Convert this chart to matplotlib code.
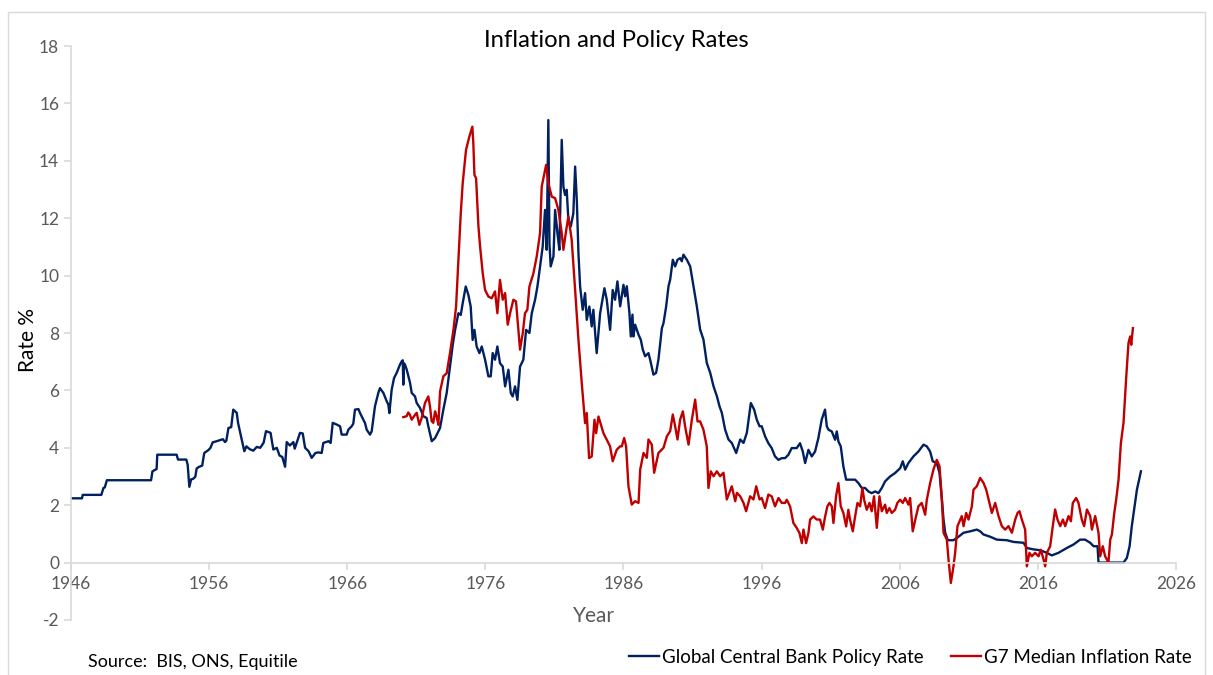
import matplotlib
matplotlib.use("Agg")
import matplotlib.pyplot as plt
from matplotlib.patches import Rectangle

plt.rcParams['font.family'] = ['Lato', 'DejaVu Sans']
plt.rcParams['axes.unicode_minus'] = False

# Global central bank policy rate (%)
policy_years = [
    1946.0, 1946.8, 1946.85, 1948.2, 1948.35, 1948.45, 1948.6, 1951.8, 1951.9, 1952.2,
    1952.25, 1953.65, 1953.75, 1954.35, 1954.45, 1954.57, 1954.7, 1954.85, 1955.0, 1955.1,
    1955.25, 1955.5, 1955.65, 1955.95, 1956.1, 1956.26, 1956.55, 1957.0, 1957.15, 1957.25,
    1957.4, 1957.6, 1957.75, 1958.0, 1958.1, 1958.36, 1958.55, 1958.7, 1958.95, 1959.2,
    1959.45, 1959.7, 1959.95, 1960.12, 1960.45, 1960.65, 1960.9, 1961.1, 1961.3, 1961.5,
    1961.62, 1961.85, 1962.1, 1962.2, 1962.4, 1962.58, 1962.78, 1962.95, 1963.2, 1963.43,
    1963.7, 1963.9, 1964.15, 1964.27, 1964.65, 1964.8, 1964.95, 1965.24, 1965.48, 1965.6,
    1965.96, 1966.08, 1966.32, 1966.44, 1966.56, 1966.81, 1966.93, 1967.17, 1967.29, 1967.41,
    1967.65, 1967.77, 1968.01, 1968.25, 1968.37, 1968.62, 1968.86, 1968.98, 1969.05, 1969.22,
    1969.39, 1969.58, 1969.82, 1969.94, 1970.02, 1970.06, 1970.1, 1970.18, 1970.31, 1970.43,
    1970.55, 1970.67, 1970.91, 1971.03, 1971.27, 1971.51, 1971.75, 1971.87, 1972.12, 1972.36,
    1972.6, 1972.72, 1972.96, 1973.2, 1973.44, 1973.64, 1973.81, 1974.05, 1974.22, 1974.36,
    1974.58, 1974.77, 1974.94, 1975.08, 1975.21, 1975.37, 1975.57, 1975.74, 1975.98, 1976.22,
    1976.39, 1976.53, 1976.7, 1976.87, 1977.06, 1977.26, 1977.43, 1977.67, 1977.84, 1977.98,
    1978.15, 1978.32, 1978.51, 1978.75, 1978.95, 1979.19, 1979.36, 1979.6, 1979.77, 1979.96,
    1980.15, 1980.32, 1980.44, 1980.56, 1980.64, 1980.73, 1980.93, 1981.05, 1981.22, 1981.36,
    1981.53, 1981.65, 1981.77, 1981.89, 1982.01, 1982.18, 1982.37, 1982.5, 1982.62, 1982.74,
    1982.86, 1983.05, 1983.22, 1983.34, 1983.53, 1983.7, 1983.82, 1984.06, 1984.31, 1984.62,
    1984.79, 1985.03, 1985.22, 1985.39, 1985.56, 1985.76, 1986.0, 1986.12, 1986.24, 1986.43,
    1986.53, 1986.65, 1986.72, 1986.84, 1987.09, 1987.25, 1987.4, 1987.57, 1987.81, 1987.93,
    1988.17, 1988.36, 1988.53, 1988.78, 1988.9, 1989.09, 1989.26, 1989.38, 1989.57, 1989.74,
    1989.91, 1990.1, 1990.22, 1990.34, 1990.59, 1990.83, 1991.07, 1991.31, 1991.55, 1991.79,
    1992.03, 1992.28, 1992.52, 1992.76, 1992.95, 1993.12, 1993.36, 1993.6, 1993.84, 1994.16,
    1994.45, 1994.69, 1994.93, 1995.22, 1995.46, 1995.65, 1995.85, 1996.01, 1996.25, 1996.49,
    1996.73, 1996.97, 1997.22, 1997.46, 1997.7, 1997.94, 1998.18, 1998.54, 1998.78, 1998.98,
    1999.15, 1999.39, 1999.63, 1999.87, 2000.11, 2000.35, 2000.59, 2000.72, 2000.84, 2001.08,
    2001.32, 2001.44, 2001.56, 2001.73, 2001.92, 2002.12, 2002.4, 2002.77, 2003.01, 2003.25,
    2003.49, 2003.73, 2003.97, 2004.22, 2004.46, 2004.7, 2004.94, 2005.3, 2005.66, 2006.03,
    2006.22, 2006.39, 2006.63, 2006.99, 2007.35, 2007.72, 2007.96, 2008.2, 2008.39, 2008.68,
    2008.88, 2009.05, 2009.17, 2009.29, 2009.48, 2009.89, 2010.25, 2010.62, 2011.1, 2011.58,
    2011.82, 2012.06, 2012.55, 2013.03, 2013.75, 2014.24, 2014.96, 2015.2, 2015.68, 2016.17,
    2016.65, 2017.01, 2017.49, 2018.1, 2018.58, 2019.06, 2019.42, 2019.79, 2020.03, 2020.32,
    2020.39, 2020.99, 2021.72, 2022.2, 2022.44, 2022.64, 2022.8, 2022.97, 2023.17, 2023.46,
]
policy_rate = [
    2.24, 2.24, 2.36, 2.36, 2.6, 2.62, 2.87, 2.87, 3.18, 3.26,
    3.76, 3.76, 3.59, 3.59, 3.41, 2.64, 2.9, 2.92, 2.99, 3.28,
    3.33, 3.38, 3.82, 3.92, 4.0, 4.19, 4.23, 4.3, 4.2, 4.25,
    4.69, 4.72, 5.33, 5.22, 4.86, 4.29, 3.88, 4.05, 3.95, 3.9,
    4.03, 4.0, 4.18, 4.58, 4.52, 3.94, 4.0, 3.73, 3.68, 3.34,
    4.2, 4.08, 4.2, 3.97, 4.26, 4.52, 4.5, 4.0, 3.88, 3.65,
    3.82, 3.84, 3.82, 4.17, 4.23, 4.17, 4.87, 4.81, 4.75, 4.46,
    4.46, 4.63, 4.75, 4.84, 5.33, 5.35, 5.21, 4.98, 4.86, 4.63,
    4.46, 4.57, 5.45, 5.91, 6.08, 5.91, 5.62, 5.5, 5.21, 6.03,
    6.43, 6.61, 6.9, 7.01, 7.05, 6.2, 6.95, 6.9, 6.72, 6.49,
    6.26, 5.91, 5.79, 5.56, 5.39, 5.1, 5.04, 4.75, 4.23, 4.34,
    4.57, 4.69, 5.33, 5.91, 6.83, 7.59, 8.11, 8.69, 8.63, 9.04,
    9.62, 9.33, 8.92, 7.76, 8.11, 7.53, 7.3, 7.53, 7.07, 6.49,
    6.49, 7.3, 7.07, 7.53, 6.95, 6.83, 6.14, 6.72, 5.91, 5.79,
    6.14, 5.67, 6.83, 7.07, 8.11, 8.0, 8.69, 9.16, 9.62, 10.32,
    11.01, 12.29, 10.9, 15.42, 11.13, 10.32, 10.67, 12.29, 11.48, 10.9,
    14.73, 13.1, 12.81, 12.99, 11.94, 11.71, 12.17, 13.8, 12.64, 10.78,
    9.62, 8.81, 9.39, 8.46, 8.92, 8.23, 8.81, 7.3, 8.69, 9.56,
    9.16, 8.11, 9.5, 9.16, 9.8, 8.93, 9.68, 9.28, 9.63, 8.7,
    7.88, 8.64, 7.88, 8.29, 7.94, 7.77, 7.42, 7.19, 7.3, 7.07,
    6.55, 6.61, 7.07, 8.17, 8.35, 8.93, 9.63, 9.86, 10.55, 10.32,
    10.55, 10.61, 10.5, 10.73, 10.55, 10.32, 9.63, 8.93, 8.12, 7.77,
    6.96, 6.61, 6.14, 5.8, 5.45, 5.22, 4.63, 4.29, 4.17, 3.82,
    4.29, 4.17, 4.52, 5.56, 5.33, 4.98, 4.75, 4.75, 4.4, 4.16,
    3.99, 3.7, 3.58, 3.64, 3.64, 3.76, 3.99, 3.99, 4.16, 3.87,
    3.47, 3.93, 3.7, 3.87, 4.34, 4.98, 5.33, 4.75, 4.63, 4.57,
    4.28, 4.57, 4.22, 4.05, 3.35, 2.89, 2.89, 2.89, 2.77, 2.6,
    2.6, 2.48, 2.42, 2.48, 2.42, 2.6, 2.83, 3.0, 3.12, 3.29,
    3.53, 3.24, 3.47, 3.7, 3.87, 4.11, 4.05, 3.87, 3.53, 3.47,
    3.12, 2.2, 1.5, 1.04, 0.78, 0.78, 0.9, 1.04, 1.09, 1.15,
    1.09, 0.98, 0.9, 0.8, 0.78, 0.72, 0.69, 0.51, 0.46, 0.43,
    0.34, 0.25, 0.34, 0.51, 0.63, 0.8, 0.8, 0.69, 0.57, 0.57,
    0.0, 0.0, 0.0, 0.0, 0.16, 0.57, 1.27, 1.85, 2.54, 3.18,
]

# G7 median inflation rate (%)
infl_years = [
    1970.06, 1970.3, 1970.42, 1970.54, 1970.67, 1970.91, 1971.03, 1971.22, 1971.39, 1971.63,
    1971.87, 1971.99, 1972.11, 1972.23, 1972.36, 1972.47, 1972.6, 1972.72, 1972.96, 1973.2,
    1973.44, 1973.69, 1973.88, 1974.05, 1974.22, 1974.36, 1974.6, 1974.84, 1975.06, 1975.13,
    1975.21, 1975.33, 1975.5, 1975.62, 1975.81, 1975.98, 1976.22, 1976.46, 1976.7, 1976.87,
    1977.06, 1977.26, 1977.43, 1977.62, 1977.79, 1978.03, 1978.22, 1978.51, 1978.71, 1978.87,
    1979.04, 1979.19, 1979.48, 1979.72, 1979.96, 1980.08, 1980.4, 1980.56, 1980.81, 1981.05,
    1981.29, 1981.53, 1981.65, 1981.84, 1982.01, 1982.25, 1982.5, 1982.74, 1982.98, 1983.22,
    1983.34, 1983.51, 1983.7, 1983.9, 1984.02, 1984.19, 1984.55, 1984.79, 1985.03, 1985.22,
    1985.51, 1985.75, 1985.88, 1986.05, 1986.19, 1986.36, 1986.6, 1986.84, 1987.09, 1987.21,
    1987.45, 1987.69, 1987.81, 1988.05, 1988.22, 1988.53, 1988.9, 1989.14, 1989.38, 1989.57,
    1989.74, 1989.91, 1990.1, 1990.3, 1990.46, 1990.71, 1990.95, 1991.19, 1991.36, 1991.55,
    1991.79, 1992.03, 1992.15, 1992.32, 1992.52, 1992.76, 1993.0, 1993.24, 1993.48, 1993.84,
    1994.09, 1994.21, 1994.45, 1994.69, 1994.88, 1995.17, 1995.41, 1995.61, 1995.85, 1996.01,
    1996.25, 1996.49, 1996.73, 1996.97, 1997.22, 1997.46, 1997.7, 1997.82, 1998.06, 1998.3,
    1998.54, 1998.74, 1998.91, 1999.03, 1999.22, 1999.39, 1999.51, 1999.75, 1999.99, 2000.23,
    2000.43, 2000.6, 2000.76, 2000.91, 2001.08, 2001.2, 2001.39, 2001.56, 2001.73, 2001.92,
    2002.12, 2002.28, 2002.4, 2002.6, 2002.77, 2002.94, 2003.13, 2003.3, 2003.42, 2003.61,
    2003.81, 2003.97, 2004.14, 2004.34, 2004.53, 2004.7, 2004.94, 2005.06, 2005.25, 2005.42,
    2005.66, 2005.83, 2006.03, 2006.22, 2006.39, 2006.63, 2006.75, 2006.94, 2007.18, 2007.35,
    2007.59, 2007.84, 2007.96, 2008.2, 2008.44, 2008.68, 2008.88, 2009.05, 2009.17, 2009.41,
    2009.53, 2009.7, 2009.89, 2010.01, 2010.18, 2010.49, 2010.62, 2010.81, 2010.98, 2011.22,
    2011.34, 2011.58, 2011.82, 2012.06, 2012.26, 2012.43, 2012.67, 2012.91, 2013.15, 2013.39,
    2013.63, 2013.87, 2014.12, 2014.36, 2014.53, 2014.67, 2014.84, 2015.08, 2015.2, 2015.39,
    2015.56, 2015.8, 2016.05, 2016.21, 2016.41, 2016.53, 2016.65, 2016.89, 2017.08, 2017.25,
    2017.42, 2017.62, 2017.81, 2017.98, 2018.22, 2018.39, 2018.53, 2018.77, 2018.94, 2019.18,
    2019.35, 2019.55, 2019.79, 2019.91, 2020.15, 2020.39, 2020.51, 2020.7, 2020.87, 2021.11,
    2021.24, 2021.36, 2021.53, 2021.67, 2021.84, 2022.01, 2022.2, 2022.4, 2022.56, 2022.68,
    2022.76, 2022.88,
]
infl_rate = [
    5.07, 5.1, 5.23, 5.15, 4.98, 5.15, 5.22, 4.8, 5.04, 5.56,
    5.79, 5.45, 4.93, 4.87, 5.27, 5.1, 4.8, 5.96, 6.49, 6.6,
    7.3, 8.11, 8.92, 10.55, 12.17, 13.22, 14.38, 14.84, 15.19, 14.61,
    13.51, 13.39, 11.71, 11.01, 10.08, 9.5, 9.27, 9.21, 9.45, 8.69,
    9.85, 9.16, 9.39, 8.29, 8.69, 9.16, 9.1, 7.42, 8.0, 8.69,
    8.81, 9.62, 10.08, 10.67, 11.48, 13.1, 13.86, 13.22, 12.75, 12.7,
    12.29, 11.48, 10.9, 11.54, 12.06, 11.25, 9.5, 7.76, 6.25, 4.86,
    5.21, 3.64, 3.7, 4.98, 4.51, 5.09, 4.51, 4.28, 4.05, 3.53,
    3.93, 4.05, 4.05, 4.34, 4.05, 2.66, 2.02, 2.14, 2.08, 3.24,
    3.82, 3.65, 4.29, 4.11, 3.13, 3.82, 4.0, 4.4, 4.58, 5.16,
    4.75, 4.29, 4.98, 5.27, 4.75, 4.11, 4.98, 5.68, 4.92, 4.92,
    4.63, 4.05, 2.6, 3.18, 3.01, 3.18, 3.01, 3.13, 2.2, 2.66,
    2.14, 2.43, 2.31, 2.08, 1.79, 2.31, 2.2, 2.66, 2.2, 2.25,
    1.9, 2.37, 2.31, 1.96, 2.25, 2.08, 2.08, 2.19, 1.96, 1.38,
    1.21, 1.03, 0.68, 1.15, 0.68, 1.03, 1.5, 1.61, 1.5, 1.5,
    1.15, 1.61, 1.96, 2.08, 1.96, 1.38, 2.31, 2.77, 1.96, 1.73,
    1.26, 1.84, 1.5, 1.09, 1.61, 2.08, 1.96, 2.6, 2.19, 1.84,
    2.08, 1.79, 2.31, 1.21, 2.31, 1.79, 2.02, 1.73, 1.9, 1.73,
    1.84, 2.08, 2.19, 2.08, 2.25, 2.02, 2.25, 1.09, 1.61, 1.96,
    2.08, 1.67, 2.19, 2.77, 3.24, 3.58, 3.36, 2.2, 1.04, 0.8,
    0.11, -0.71, -0.13, 0.34, 1.27, 1.62, 1.27, 1.73, 1.5, 1.96,
    2.54, 2.66, 2.95, 2.78, 2.54, 2.2, 1.73, 2.08, 1.62, 1.27,
    1.15, 1.27, 1.04, 1.5, 1.73, 1.79, 1.5, 1.15, -0.13, 0.34,
    0.22, 0.34, 0.22, 0.45, 0.11, -0.13, 0.34, 0.57, 1.27, 1.85,
    1.5, 1.27, 1.5, 1.27, 1.62, 1.44, 2.08, 2.25, 2.08, 1.5,
    1.27, 1.85, 1.62, 1.15, 1.62, 1.04, 0.22, 0.57, 0.22, 0.0,
    0.8, 0.98, 1.73, 2.2, 2.89, 4.17, 4.87, 6.49, 7.65, 7.88,
    7.59, 8.17,
]

x_ticks = list(range(1946, 2027, 10))
y_ticks = list(range(-2, 19, 2))

navy = '#002060'
red = '#C00000'
axis_grey = '#D9D9D9'
label_grey = '#595959'

fig = plt.figure(figsize=(12.13, 6.75), dpi=100)
ax = fig.add_axes([0.0585, 0.0815, 0.911, 0.8503])

ax.plot(policy_years, policy_rate, color=navy, lw=1.7, label='Global Central Bank Policy Rate')
ax.plot(infl_years, infl_rate, color=red, lw=1.7, label='G7 Median Inflation Rate')

ax.set_xlim(1946, 2026)
ax.set_ylim(-2, 18)
ax.set_xticks(x_ticks)
ax.set_yticks(y_ticks)

# excel style axes: x axis sits on zero
for s in ['top', 'right']:
    ax.spines[s].set_visible(False)
ax.spines['bottom'].set_position(('data', 0))
ax.spines['bottom'].set_color(axis_grey)
ax.spines['left'].set_color(axis_grey)
ax.spines['bottom'].set_linewidth(1.2)
ax.spines['left'].set_linewidth(1.2)
ax.tick_params(axis='both', colors=axis_grey, length=5, width=1.2, labelsize=12.5,
               labelcolor=label_grey)
ax.tick_params(axis='x', pad=5)

fig.text(0.508, 0.94, 'Inflation and Policy Rates', ha='center', va='center', fontsize=17.2, color='black')
fig.text(0.49, 0.088, 'Year', ha='center', va='center', fontsize=15, color=label_grey)
fig.text(0.023, 0.496, 'Rate %', ha='center', va='center', rotation=90, fontsize=15, color='black')
fig.text(0.0725, 0.02, 'Source:  BIS, ONS, Equitile', ha='left', va='center', fontsize=13, color='black')

fig.legend(loc='center right', bbox_to_anchor=(0.9965, 0.026), ncol=2, frameon=False,
           fontsize=13.5, handlelength=1.6, handletextpad=0.15, columnspacing=1.5)

# chart border
fig.patches.append(Rectangle((0.0066, -0.05), 0.987, 1.032, transform=fig.transFigure,
                             fill=False, edgecolor=axis_grey, lw=1))

fig.savefig('out.png', dpi=100)
